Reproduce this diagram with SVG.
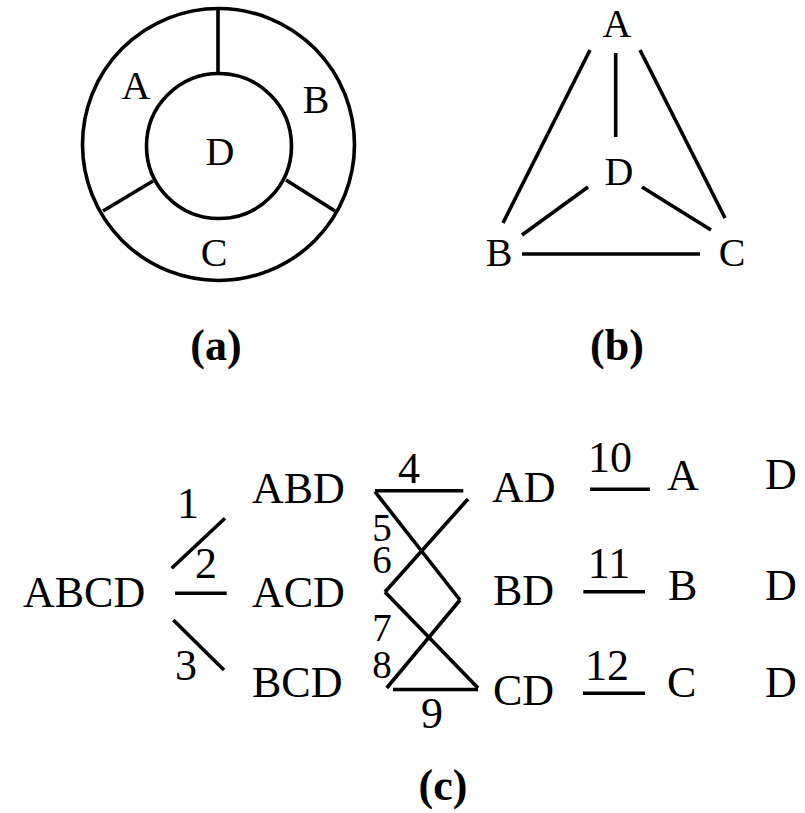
<svg xmlns="http://www.w3.org/2000/svg" width="805" height="813" viewBox="0 0 805 813">
<style>
.ln{stroke:#000;stroke-width:3.6;fill:none;stroke-linecap:butt}
.t{font-family:"Liberation Serif","Times New Roman",serif;fill:#000}
.a{font-size:40px;text-anchor:middle}
.c{font-size:44px}
.n{font-size:44px;text-anchor:middle}
.s{font-size:39px;text-anchor:middle}
.cap{font-size:44px;font-weight:bold;text-anchor:middle}
</style>
<rect width="805" height="813" fill="#fff"/>
<g id="diagram-a">
  <circle class="ln" cx="218.5" cy="144.5" r="136"/>
  <circle class="ln" cx="219" cy="146" r="72.5"/>
  <line class="ln" x1="218" y1="8" x2="218" y2="74"/>
  <line class="ln" x1="153" y1="181" x2="103" y2="211"/>
  <line class="ln" x1="286" y1="180" x2="335" y2="211"/>
  <text class="t a" x="136" y="99">A</text>
  <text class="t a" x="316" y="113">B</text>
  <text class="t a" x="220" y="165">D</text>
  <text class="t a" x="214" y="266">C</text>
</g>
<g id="diagram-b">
  <g id="b-A"><text class="t a" x="617" y="37">A</text></g>
  <g id="b-D"><text class="t a" x="619" y="185">D</text></g>
  <g id="b-B"><text class="t a" x="499" y="266">B</text></g>
  <g id="b-C"><text class="t a" x="732" y="266">C</text></g>
  <g id="b-edges">
    <line class="ln" x1="590" y1="50" x2="503" y2="223"/>
    <line class="ln" x1="615.7" y1="53" x2="615.7" y2="137"/>
    <line class="ln" x1="640" y1="50" x2="725" y2="218"/>
    <line class="ln" x1="588" y1="187" x2="522" y2="235"/>
    <line class="ln" x1="642" y1="187" x2="711" y2="230"/>
    <line class="ln" x1="522" y1="254" x2="700" y2="254"/>
  </g>
</g>
<g id="diagram-c">
  <g id="c-ABCD"><text class="t c" x="23" y="607">ABCD</text></g>
  <g id="c-ABD"><text class="t c" x="252" y="503">ABD</text></g>
  <g id="c-ACD"><text class="t c" x="252" y="607">ACD</text></g>
  <g id="c-BCD"><text class="t c" x="252" y="697">BCD</text></g>
  <g id="c-AD"><text class="t c" x="492" y="502">AD</text></g>
  <g id="c-BD"><text class="t c" x="493" y="605">BD</text></g>
  <g id="c-CD"><text class="t c" x="493" y="705">CD</text></g>
  <g id="c-A"><text class="t c" x="667" y="490">A</text></g>
  <g id="c-B"><text class="t c" x="668" y="600">B</text></g>
  <g id="c-C"><text class="t c" x="667" y="697">C</text></g>
  <g id="c-D1"><text class="t c" x="765" y="489">D</text></g>
  <g id="c-D2"><text class="t c" x="765" y="600">D</text></g>
  <g id="c-D3"><text class="t c" x="765" y="697">D</text></g>
  <g id="connectors">
    <line class="ln" x1="171.7" y1="568.3" x2="225" y2="518.3"/>
    <line class="ln" x1="175" y1="593.3" x2="226.7" y2="593.3"/>
    <line class="ln" x1="173.3" y1="620" x2="224" y2="670"/>
    <line class="ln" x1="375" y1="490.7" x2="463.3" y2="490.7"/>
    <line class="ln" x1="375" y1="491.7" x2="460" y2="600"/>
    <line class="ln" x1="468" y1="499" x2="385" y2="592"/>
    <line class="ln" x1="385" y1="592" x2="478" y2="688"/>
    <line class="ln" x1="460" y1="600" x2="386.7" y2="688"/>
    <line class="ln" x1="393" y1="689.5" x2="478" y2="689.5"/>
    <line class="ln" x1="590" y1="489.3" x2="650" y2="489.3"/>
    <line class="ln" x1="583.3" y1="591.7" x2="645" y2="591.7"/>
    <line class="ln" x1="583" y1="693.3" x2="645" y2="693.3"/>
    <text class="t n" x="188" y="518">1</text>
    <text class="t n" x="206" y="578">2</text>
    <text class="t n" x="186" y="680">3</text>
    <text class="t n" x="409" y="483">4</text>
    <text class="t s" x="382" y="541">5</text>
    <text class="t s" x="382" y="573">6</text>
    <text class="t s" x="382" y="641">7</text>
    <text class="t s" x="382" y="678">8</text>
    <text class="t n" x="432" y="728">9</text>
    <text class="t n" x="610" y="472">10</text>
    <text class="t n" x="609" y="578">11</text>
    <text class="t n" x="607" y="680">12</text>
  </g>
</g>
<g id="captions">
  <text class="t cap" x="216" y="360">(a)</text>
  <text class="t cap" x="617" y="360">(b)</text>
  <text class="t cap" x="443" y="800">(c)</text>
</g>
</svg>
